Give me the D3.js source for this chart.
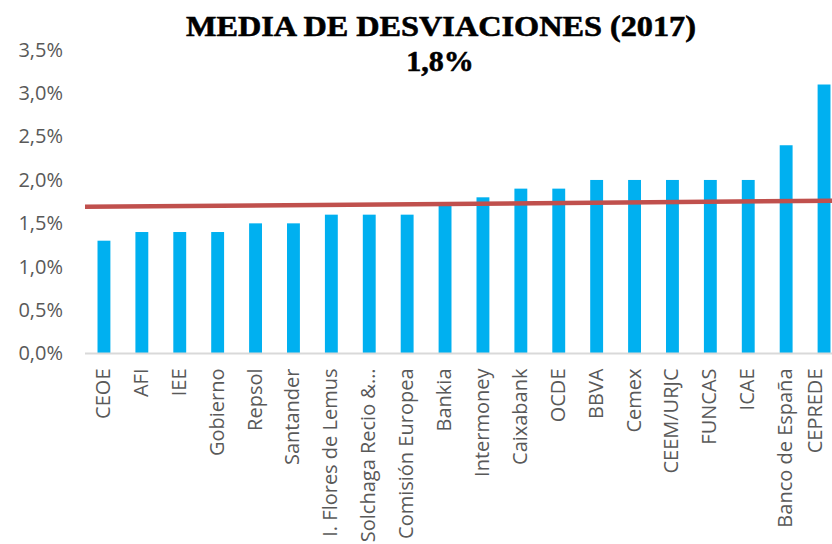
<!DOCTYPE html>
<html>
<head>
<meta charset="utf-8">
<script src="https://cdn.jsdelivr.net/npm/d3@7"></script>
<style>
  body { margin: 0; background: #fff; }
  svg { display: block; }
</style>
</head>
<body>
<div id="chart"></div>
<script>
// Chart data
const categories = ['CEOE', 'AFI', 'IEE', 'Gobierno', 'Repsol', 'Santander', 'I. Flores de Lemus',
  'Solchaga Recio &…', 'Comisión Europea', 'Bankia', 'Intermoney', 'Caixabank', 'OCDE', 'BBVA',
  'Cemex', 'CEEM/URJC', 'FUNCAS', 'ICAE', 'Banco de España', 'CEPREDE'];
const values = [1.3, 1.4, 1.4, 1.4, 1.5, 1.5, 1.6, 1.6, 1.6, 1.7, 1.8, 1.9, 1.9, 2.0, 2.0, 2.0, 2.0, 2.0, 2.4, 3.1];
// mean line, value at left and right end of the plot
const meanLine = [1.69, 1.76];
const yTicks = [0, 0.5, 1, 1.5, 2, 2.5, 3, 3.5];
const title = 'MEDIA DE DESVIACIONES (2017)';
const subtitle = '1,8%';

const width = 832;
const height = 544;

const svg = d3.select('#chart')
  .append('svg')
  .attr('width', width)
  .attr('height', height);

// plot runs past the right edge (the original is cropped)
const x = d3.scaleBand()
  .domain(categories)
  .range([85, 85 + 37.9 * categories.length])
  .paddingInner(0.66)
  .paddingOuter(0.33);

const y = d3.scaleLinear().domain([0, 3.5]).range([353.5, 49.8]);

const fmt = d => d3.format('.1f')(d).replace('.', ',') + '%';

// y axis labels
const yAxis = svg.append('g')
  .attr('transform', 'translate(63,0)')
  .call(d3.axisLeft(y).tickValues(yTicks).tickFormat(fmt).tickSize(0).tickPadding(0));
yAxis.select('.domain').remove();
yAxis.selectAll('text')
  .attr('fill', '#595959')
  .style('font-family', '"Open Sans", sans-serif')
  .style('font-size', '20px');

// bars
svg.selectAll('rect.bar')
  .data(values)
  .enter()
  .append('rect')
  .attr('class', 'bar')
  .attr('x', (d, i) => x(categories[i]))
  .attr('width', x.bandwidth())
  .attr('y', d => y(d))
  .attr('height', d => y(0) - y(d))
  .attr('fill', '#00B0F0');

// x axis
const xAxis = svg.append('g')
  .attr('transform', `translate(0,${y(0)})`)
  .call(d3.axisBottom(x).tickSize(0).tickPadding(0));
xAxis.select('.domain')
  .attr('d', `M85,0H${width}`)
  .attr('stroke', '#d9d9d9')
  .attr('stroke-width', 2);
xAxis.selectAll('text')
  .attr('fill', '#595959')
  .style('font-family', '"Open Sans", sans-serif')
  .style('font-size', '20px')
  .attr('text-anchor', 'end')
  .attr('transform', 'rotate(-90)')
  .attr('x', -15)
  // last label is pushed inside the visible area, like in the original
  .attr('y', (d, i) => i === categories.length - 1 ? -9 : -1)
  .attr('dy', '0.35em');

// mean line
svg.append('line')
  .attr('x1', 85)
  .attr('x2', width)
  .attr('y1', y(meanLine[0]))
  .attr('y2', y(meanLine[1]))
  .attr('stroke', '#C0504D')
  .attr('stroke-width', 4.5);

// titles
svg.append('text')
  .attr('x', 441)
  .attr('y', 36)
  .attr('text-anchor', 'middle')
  .attr('textLength', 510)
  .attr('lengthAdjust', 'spacingAndGlyphs')
  .attr('stroke', '#000')
  .attr('stroke-width', 0.6)
  .style('font-family', '"Liberation Serif", serif')
  .style('font-weight', 'bold')
  .style('font-size', '30px')
  .text(title);

svg.append('text')
  .attr('x', 440)
  .attr('y', 71)
  .attr('text-anchor', 'middle')
  .attr('stroke', '#000')
  .attr('stroke-width', 0.6)
  .style('font-family', '"Liberation Serif", serif')
  .style('font-weight', 'bold')
  .style('font-size', '30px')
  .text(subtitle);
</script>
</body>
</html>
